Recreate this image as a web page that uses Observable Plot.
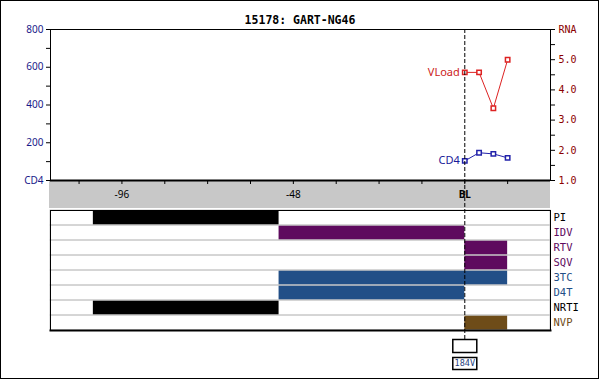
<!DOCTYPE html>
<html><head><meta charset="utf-8">
<script src="https://cdn.jsdelivr.net/npm/d3@7"></script>
<script src="https://cdn.jsdelivr.net/npm/@observablehq/plot@0.6"></script>
<style>
body{margin:0;background:#fff;}
#c{position:relative;width:600px;height:379px;overflow:hidden;background:#fff;}
#c svg{position:absolute;left:0;top:0;}
#border{position:absolute;left:0;top:0;width:599px;height:379px;box-sizing:border-box;border:1px solid #000;}
#band{position:absolute;left:49px;top:180px;width:501px;height:28px;background:#c8c8c8;}
#title{position:absolute;left:0;top:13px;width:600px;text-align:center;font:bold 11.5px "DejaVu Sans Mono";line-height:14px;}
</style></head><body>
<div id="c"><div id="border"></div><div id="band"></div><div id="title"></div></div>
<script>
const title = "15178: GART-NG46";
const xDomain = [-116, 24];
const xTicks = [-108, -96, -84, -72, -60, -48, -36, -24, -12, 0, 12];
const xTickLabels = ["", "-96", "", "", "", "-48", "", "", "", "BL", ""];
const cd4Domain = [0, 800];
const cd4Ticks = [0, 100, 200, 300, 400, 500, 600, 700, 800];
const cd4TickLabels = ["CD4", "", "200", "", "400", "", "600", "", "800"];
const rnaDomain = [1, 6];
const rnaTicks = [1, 1.5, 2, 2.5, 3, 3.5, 4, 4.5, 5, 5.5, 6];
const rnaTickLabels = ["1.0", "", "2.0", "", "3.0", "", "4.0", "", "5.0", "", "RNA"];

const weeks = [0, 4, 8, 12];
const cd4 = [104, 147, 141, 120];
const vload = [4.58, 4.58, 3.39, 5.0];

const drugs = ["PI", "IDV", "RTV", "SQV", "3TC", "D4T", "NRTI", "NVP"];
const drugColors = ["#000000", "#5e0a5e", "#5e0a5e", "#5e0a5e", "#224f87", "#224f87", "#000000", "#6e4c18"];
const barDrug = ["PI", "IDV", "RTV", "SQV", "3TC", "D4T", "NRTI", "NVP"];
const barStart = [-104, -52, 0, 0, -52, -52, -104, 0];
const barEnd = [-52, 0, 12, 12, 12, 0, -52, 12];

const mutationWeeks = [0];
const mutationLabels = ["184V"];

document.getElementById("title").textContent = title;

const W = 600, H = 379, ML = 50, MR = 50;
const common = {width: W, height: H, marginLeft: ML, marginRight: MR,
  style: "background: transparent; overflow: visible; font-family: 'Noto Sans'; font-size: 10px;"};

const xLab = new Map(xTicks.map((t, i) => [t, xTickLabels[i]]));
const cd4Lab = new Map(cd4Ticks.map((t, i) => [t, cd4TickLabels[i]]));
const rnaLab = new Map(rnaTicks.map((t, i) => [t, rnaTickLabels[i]]));

const pts = weeks.map((w, i) => ({week: w, cd4: cd4[i], vload: vload[i]}));
const bars = barDrug.map((d, i) => ({drug: d, start: barStart[i], end: barEnd[i], color: drugColors[drugs.indexOf(d)]}));

const c = document.getElementById("c");

// Top panel: CD4 (left axis) + x axis
const A = Plot.plot({
  ...common, marginTop: 29, marginBottom: H - 180,
  x: {domain: xDomain},
  y: {domain: cd4Domain},
  marks: [
    Plot.frame({stroke: "#000"}),
    Plot.axisY({ticks: cd4Ticks, tickFormat: d => cd4Lab.get(d), tickSize: 4, tickPadding: 3, fill: "#1a1a8a", stroke: "#000", label: null}),
    Plot.axisX({ticks: xTicks, tickFormat: d => (xLab.get(d) === "BL" ? "" : xLab.get(d)), tickSize: 4, tickPadding: 6, fill: "#000", stroke: "#000", label: null}),
    Plot.axisX({ticks: xTicks.filter(t => xLab.get(t) === "BL"), tickFormat: d => xLab.get(d), tickSize: 0, tickPadding: 10, fontWeight: "bold", fill: "#000", label: null}),
    Plot.ruleY([cd4Domain[0]], {stroke: "#000", strokeWidth: 2}),
    Plot.line(pts, {x: "week", y: "cd4", stroke: "#2222aa", strokeWidth: 1}),
    Plot.dot(pts, {x: "week", y: "cd4", symbol: "square", r: 2.5, stroke: "#2222aa", fill: "white"}),
    Plot.text(pts.slice(0, 1), {x: "week", y: "cd4", text: () => "CD4", textAnchor: "end", dx: -5, fill: "#1a1a99", fontFamily: "Noto Sans", fontSize: 11})
  ]
});

// Top panel overlay: viral load (right axis)
const B = Plot.plot({
  ...common, marginTop: 29, marginBottom: H - 180,
  x: {domain: xDomain, axis: null},
  y: {domain: rnaDomain},
  marks: [
    Plot.axisY({anchor: "right", ticks: rnaTicks, tickFormat: d => rnaLab.get(d), tickSize: 4, tickPadding: 4, fill: "#8b0000", stroke: "#000", fontFamily: "DejaVu Sans Mono", label: null}),
    Plot.line(pts, {x: "week", y: "vload", stroke: "#dd2222", strokeWidth: 1}),
    Plot.dot(pts, {x: "week", y: "vload", symbol: "square", r: 2.5, stroke: "#dd2222", fill: "white"}),
    Plot.text(pts.slice(0, 1), {x: "week", y: "vload", text: () => "VLoad", textAnchor: "end", dx: -5, fill: "#cc2222", fontFamily: "Noto Sans", fontSize: 11})
  ]
});

// Lower panel: treatment bars
const C = Plot.plot({
  ...common, marginTop: 210, marginBottom: H - 330,
  x: {domain: xDomain, axis: null},
  y: {domain: drugs, padding: 0, axis: null},
  marks: [
    Plot.barX(bars, {x1: "start", x2: "end", y: "drug", fill: "color"}),
    Plot.barX(drugs, {x1: () => xDomain[0], x2: () => xDomain[1], y: d => d, fill: "none", stroke: "#c8c8c8"}),
    Plot.frame({stroke: "#000"}),
    Plot.frame({anchor: "bottom", stroke: "#000", strokeWidth: 2}),
    Plot.text(drugs, {y: d => d, text: d => d, frameAnchor: "right", textAnchor: "start", dx: 3, fill: (d, i) => drugColors[i], fontFamily: "DejaVu Sans Mono", fontSize: 10.5})
  ]
});

// Baseline dashed rule
const E = Plot.plot({
  ...common, marginTop: 29, marginBottom: H - 339,
  x: {domain: xDomain, axis: null},
  marks: [Plot.ruleX(mutationWeeks, {stroke: "#000", strokeDasharray: "4,2"})]
});

// Mutation boxes
const boxSym = {draw(ctx) { ctx.rect(-12, -6.5, 24, 13); }};
const boxSym2 = {draw(ctx) { ctx.rect(-12, -6, 24, 12); }};
const D = Plot.plot({
  ...common, marginTop: 339, marginBottom: H - 369,
  x: {domain: xDomain, axis: null},
  marks: [
    Plot.dot(mutationWeeks, {x: d => d, frameAnchor: "top", dy: 6.5, symbol: boxSym, r: 5, stroke: "#000", fill: "white"}),
    Plot.dot(mutationWeeks, {x: d => d, frameAnchor: "bottom", dy: -6, symbol: boxSym2, r: 5, stroke: "#000", fill: "white"}),
    Plot.text(mutationWeeks, {x: d => d, frameAnchor: "bottom", lineAnchor: "middle", dy: -6, text: (d, i) => mutationLabels[i], fill: "#1f3f7f", fontFamily: "DejaVu Sans Mono", fontSize: 8.5})
  ]
});

[C, A, B, E, D].forEach(s => c.appendChild(s));
</script>
</body></html>
